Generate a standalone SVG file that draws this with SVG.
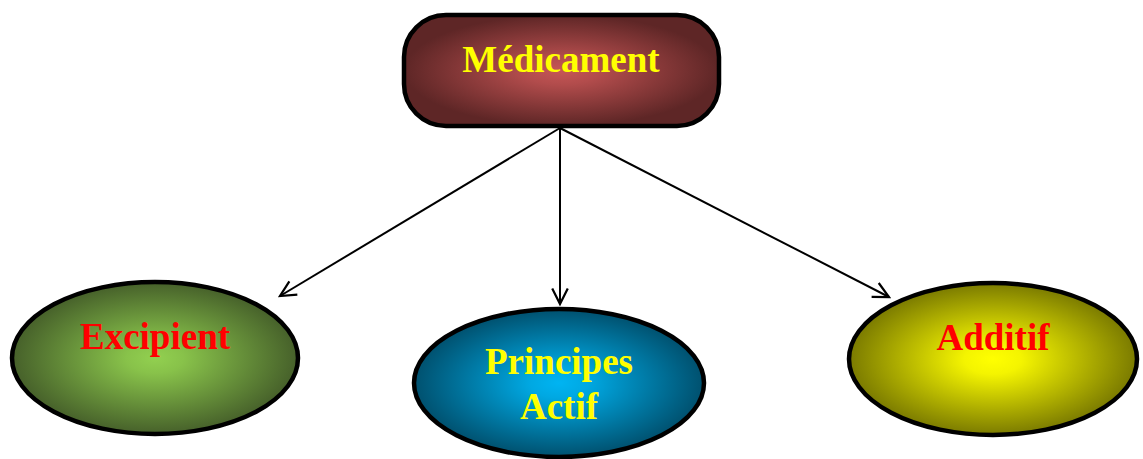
<svg xmlns="http://www.w3.org/2000/svg" width="1143" height="459" viewBox="0 0 1143 459">
<style>
.shape{stroke:#000;stroke-width:4.5}
.lbl{font-family:"Liberation Serif","Times New Roman",serif;font-weight:bold;font-size:37px;text-anchor:middle}
.y{fill:#FFFF00}
.r{fill:#FF0000}
.conn{stroke:#000;stroke-width:2;fill:none;marker-end:url(#arr)}
</style>
<defs>
<marker id="arr" markerWidth="20" markerHeight="20" viewBox="-16 -8 18 16" refX="0" refY="0" orient="auto" markerUnits="userSpaceOnUse">
<path d="M-14,-7 L0,0 L-14,7" fill="none" stroke="#000" stroke-width="2"/>
</marker>
<radialGradient id="gM" cx="50%" cy="50%" r="50%">
<stop offset="0" stop-color="#C65656"/>
<stop offset="0.25" stop-color="#B24C4C"/>
<stop offset="1" stop-color="#5E2626"/>
</radialGradient>
<radialGradient id="gE" cx="50%" cy="50%" r="50%">
<stop offset="0" stop-color="#92D050"/>
<stop offset="0.2" stop-color="#88C24A"/>
<stop offset="1" stop-color="#46602A"/>
</radialGradient>
<radialGradient id="gP" cx="50%" cy="50%" r="50%">
<stop offset="0" stop-color="#00B4F2"/>
<stop offset="0.2" stop-color="#00A8E2"/>
<stop offset="1" stop-color="#00506E"/>
</radialGradient>
<radialGradient id="gA" cx="50%" cy="50%" r="50%">
<stop offset="0" stop-color="#FFFF00"/>
<stop offset="0.2" stop-color="#F4F400"/>
<stop offset="1" stop-color="#7A7A00"/>
</radialGradient>
</defs>
<g id="connectors">
<line class="conn" x1="560" y1="128" x2="280" y2="296"/>
<line class="conn" x1="560" y1="128" x2="560" y2="304"/>
<line class="conn" x1="560" y1="128" x2="889" y2="297"/>
</g>
<g id="medicament">
<rect class="shape" x="404" y="15" width="315" height="111" rx="42" fill="url(#gM)"/>
<text class="lbl y" x="561" y="72">Médicament</text>
</g>
<g id="excipient">
<ellipse class="shape" cx="155" cy="358" rx="143" ry="76" fill="url(#gE)"/>
<text class="lbl r" x="155" y="349">Excipient</text>
</g>
<g id="principes">
<ellipse class="shape" cx="559" cy="383" rx="145" ry="74" fill="url(#gP)"/>
<text class="lbl y" x="559" y="374">Principes</text>
<text class="lbl y" x="559" y="419">Actif</text>
</g>
<g id="additif">
<ellipse class="shape" cx="993" cy="359" rx="144" ry="76" fill="url(#gA)"/>
<text class="lbl r" x="993" y="350">Additif</text>
</g>
</svg>
